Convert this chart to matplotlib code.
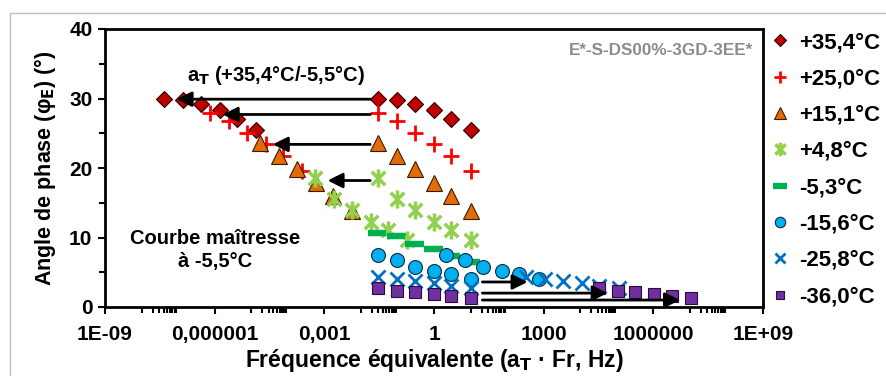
import numpy as np
import matplotlib
matplotlib.use("Agg")
import matplotlib.pyplot as plt
from matplotlib.path import Path
from matplotlib.lines import Line2D
from matplotlib.patches import Rectangle
from matplotlib.ticker import NullFormatter

plt.rcParams['font.family'] = ['Liberation Sans', 'DejaVu Sans']
plt.rcParams['font.weight'] = 'bold'

# ---------------- data ----------------
freqs = [0.03, 0.1, 0.3, 1, 3, 10]
temps = ["+35,4°C", "+25,0°C", "+15,1°C", "+4,8°C", "-5,3°C", "-15,6°C", "-25,8°C", "-36,0°C"]
phase_354 = [29.9, 29.8, 29.2, 28.4, 27.1, 25.4]
phase_250 = [27.9, 26.7, 25.1, 23.5, 21.7, 19.5]
phase_151 = [23.6, 21.7, 19.9, 17.8, 15.9, 13.8]
phase_48 = [18.5, 15.6, 14.0, 12.3, 11.1, 9.6]
phase_m53 = [10.7, 10.2, 9.1, 8.3, 7.3, 6.5]
phase_m156 = [7.5, 6.7, 5.8, 5.2, 4.7, 4.1]
phase_m258 = [4.3, 4.0, 3.7, 3.4, 3.0, 2.7]
phase_m360 = [2.7, 2.35, 2.1, 1.8, 1.6, 1.35]
# log10 of shift factors aT relative to -5,5°C
log_aT = [-5.86, -4.6, -3.23, -1.73, -0.03, 1.86, 4.05, 6.03]

x_ticks = [1e-9, 1e-6, 1e-3, 1, 1e3, 1e6, 1e9]
x_ticklabels = ["1E-09", "0,000001", "0,001", "1", "1000", "1000000", "1E+09"]
y_ticks = [0, 10, 20, 30, 40]

# shift arrows (annotations): series index, y level
left_arrows = [(0, 29.9), (1, 27.7), (2, 23.4), (3, 18.2)]
right_arrows = [(5, 3.6), (6, 2.0), (7, 1.0)]

series = [phase_354, phase_250, phase_151, phase_48, phase_m53, phase_m156, phase_m258, phase_m360]

# ---------------- styles ----------------
ast_path = Path([(0, -1), (0, 1), (-0.75, -0.75), (0.75, 0.75), (-0.75, 0.75), (0.75, -0.75)],
                [Path.MOVETO, Path.LINETO, Path.MOVETO, Path.LINETO, Path.MOVETO, Path.LINETO])
styles = [
    dict(marker='D', ms=8, mfc='#C00000', mec='#2a0000', mew=0.8),
    dict(marker='+', ms=11, mfc='#FF0000', mec='#FF0000', mew=2.0),
    dict(marker='^', ms=11, mfc='#E36C09', mec='#3a1a00', mew=0.8),
    dict(marker=ast_path, ms=13, mfc='none', mec='#92D050', mew=2.5),
    dict(marker='_', ms=13, mfc='#00B050', mec='#00B050', mew=4.5),
    dict(marker='o', ms=10, mfc='#00B0F0', mec='#0b2a40', mew=0.8),
    dict(marker='x', ms=10, mfc='#0070C0', mec='#0070C0', mew=2.0),
    dict(marker='s', ms=8.5, mfc='#7030A0', mec='#2a0a40', mew=0.8),
]

fig = plt.figure(figsize=(8.86, 3.76), dpi=100)
ax = fig.add_axes([105/886, 1-307/376, (763-105)/886, (307-29)/376])

f = np.array(freqs)
for i, (vals, st) in enumerate(zip(series, styles)):
    aT = 10 ** log_aT[i]
    ax.plot(f, vals, ls='none', zorder=3, **st)
    ax.plot(f * aT, vals, ls='none', zorder=4, **st)

arrow_kw = dict(arrowstyle='-|>,head_length=0.9,head_width=0.45', color='black', lw=2, shrinkA=0, shrinkB=0)
for i, yv in left_arrows:
    aT = 10 ** log_aT[i]
    ax.annotate('', xy=(freqs[0] * aT * 2.2, yv), xytext=(freqs[0] * 0.6, yv),
                arrowprops=arrow_kw, zorder=5)
for i, yv in right_arrows:
    aT = 10 ** log_aT[i]
    ax.annotate('', xy=(freqs[-1] * aT * 0.5, yv), xytext=(freqs[-1] * 2.1, yv),
                arrowprops=arrow_kw, zorder=5)

ax.set_xscale('log')
ax.set_xlim(1e-9, 1e9)
ax.set_ylim(0, 40)
ax.set_xticks(x_ticks)
ax.set_xticklabels(x_ticklabels)
minor = [k * 10.0 ** (3 * m + 1) for m in range(-4, 3) for k in range(1, 10)]
ax.set_xticks([v for v in minor if 1e-9 < v < 1e9], minor=True)
ax.xaxis.set_minor_formatter(NullFormatter())
ax.set_yticks(y_ticks)
ax.set_yticks([5, 15, 25, 35], minor=True)
ax.yaxis.set_minor_formatter(NullFormatter())
ax.tick_params(axis='both', which='major', labelsize=15, width=1.5, length=5, direction='out', pad=4)
ax.tick_params(axis='both', which='minor', width=1.5, length=4, direction='out')
ax.tick_params(axis='x', pad=8)
for s in ax.spines.values():
    s.set_linewidth(2)

ax.set_xlabel("Fréquence équivalente (a$_\\mathbf{T}$ · Fr, Hz)", fontsize=16.5, fontweight='bold', labelpad=2)
ax.set_ylabel("Angle de phase (φ$_\\mathbf{E}$) (°)", fontsize=15.5, fontweight='bold', labelpad=8)

ax.text(0.985, 0.95, "E*-S-DS00%-3GD-3EE*", transform=ax.transAxes, ha='right', va='top',
        fontsize=12.3, color='#8c8c8c', fontweight='bold')
ax.text(1.75e-7, 31.6, "a$_\\mathbf{T}$ (+35,4°C/-5,5°C)", fontsize=14.5, fontweight='bold', ha='left', va='bottom')
ax.text(1e-6, 8.2, "Courbe maîtresse\nà -5,5°C", fontsize=14.5, fontweight='bold', ha='center', va='center',
        linespacing=1.25)

handles = [Line2D([], [], ls='none', **st) for st in styles]
leg = fig.legend(handles, temps, loc='upper left', bbox_to_anchor=(768/886, 1-32/376), frameon=False,
                 fontsize=16, labelspacing=0.69, handletextpad=0.3, markerscale=0.75, handlelength=1.1,
                 borderaxespad=0, borderpad=0)

fig.patches.append(Rectangle((10/886, -0.1), 1.2, 1 - 13/376 + 0.1, transform=fig.transFigure,
                             fill=False, edgecolor='#bfbfbf', lw=1))

fig.savefig("out.png", dpi=100)
